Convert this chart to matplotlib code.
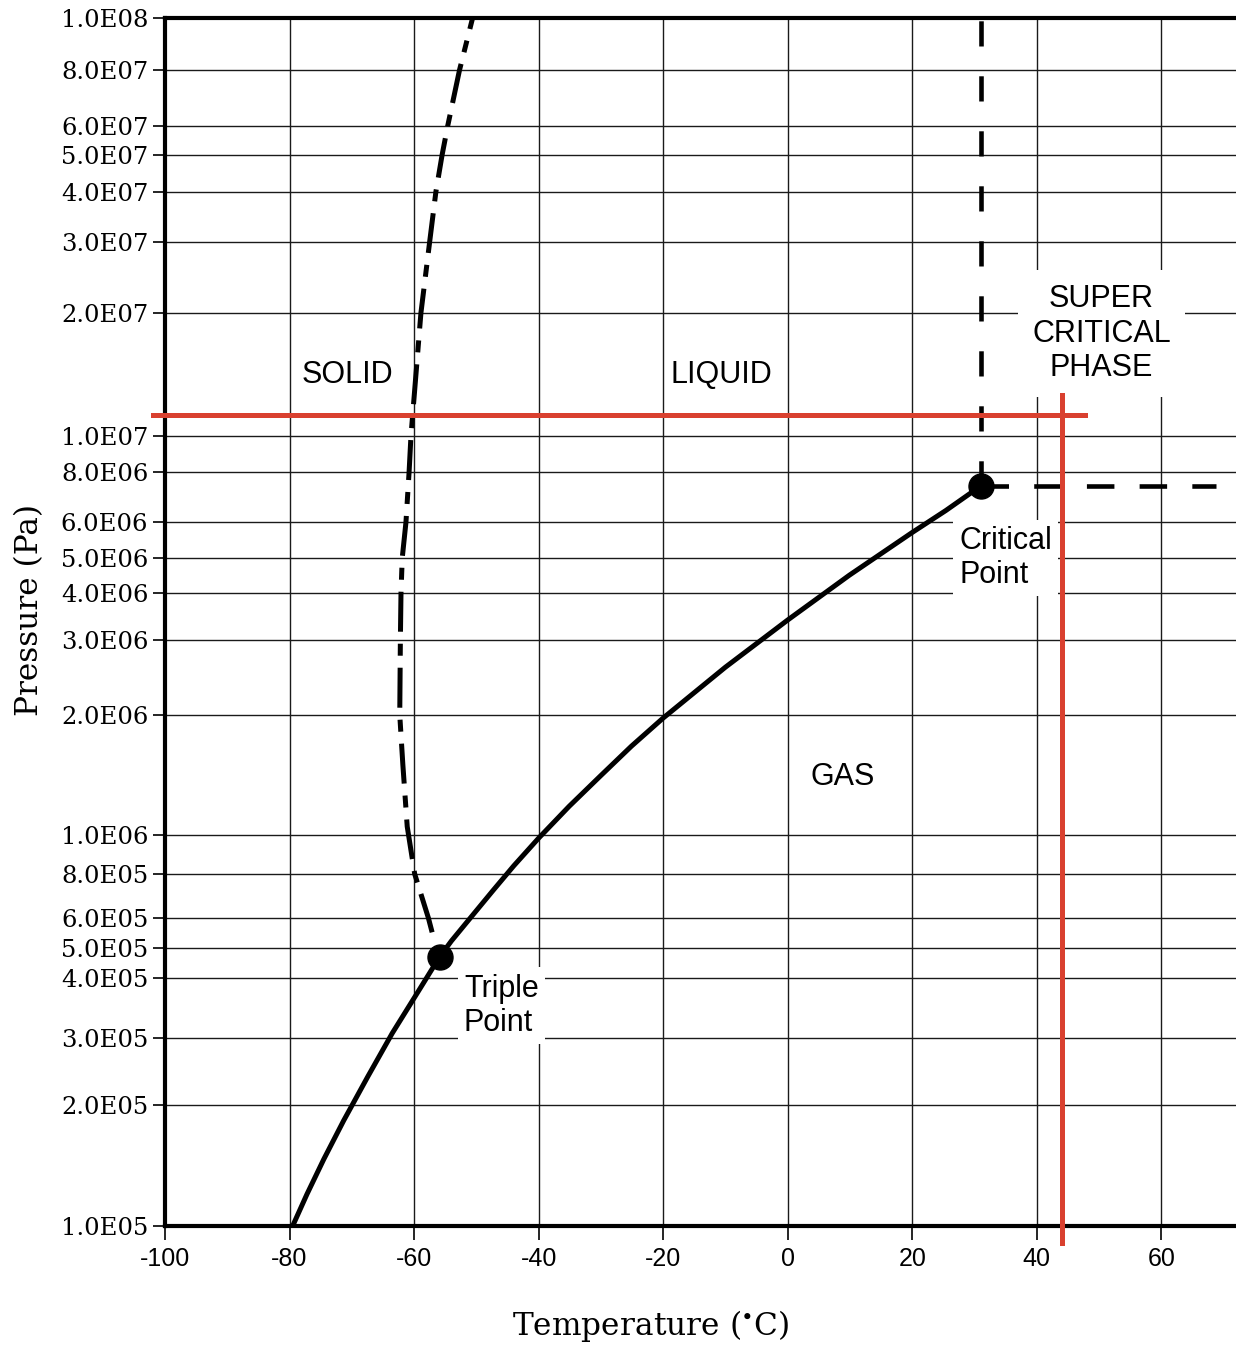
import numpy as np
import matplotlib
matplotlib.use("Agg")
from matplotlib import pyplot as plt

plt.rcParams["mathtext.fontset"] = "dejavuserif"
plt.rcParams["axes.unicode_minus"] = False

# sublimation curve (solid), from about -80 C up to the triple point
sub_T = [-79.5, -77.2, -74.5, -71.3, -67.4, -63.5, -59.5, -55.9]
sub_P = [1.0e5, 1.2e5, 1.466e5, 1.83e5, 2.38e5, 3.07e5, 3.72e5, 4.68e5]

# vaporization curve, triple point -> critical point
vap_T = [-55.9, -54.0, -50.6, -47.3, -44.0, -40.0, -35.1, -30.0, -25.1, -20.0,
         -10.0, 0.0, 9.9, 20.0, 25.4, 31.0]
vap_P = [4.68e5, 5.22e5, 6.11e5, 7.19e5, 8.38e5, 9.82e5, 1.18e6, 1.41e6, 1.67e6, 1.965e6,
         2.59e6, 3.39e6, 4.48e6, 5.69e6, 6.41e6, 7.38e6]

# melting curve (dash-dot)
melt_T = [-57.1, -57.7, -59.9, -61.1, -61.8, -62.3, -62.2, -62.1, -61.9, -61.3,
          -60.8, -60.5, -58.9, -57.5, -56.5, -55.5, -54.6, -52.7, -50.6]
melt_P = [5.5e5, 6.0e5, 8.0e5, 1.05e6, 1.5e6, 2.0e6, 3.0e6, 4.0e6, 5.0e6, 6.0e6,
          8.0e6, 1.0e7, 2.0e7, 3.0e7, 4.0e7, 5.0e7, 6.0e7, 8.0e7, 1.0e8]

triple = (-55.9, 4.68e5)
critical = (31.0, 7.38e6)
crit_right_T = 68.8
top_P = 1.0e8

# red reference lines
red_h_P = 1.126e7
red_h_T = [-102.0, 47.7]
red_v_T = 44.1
red_v_P = [1.26e7, 0.906e5]

x_ticks = [-100, -80, -60, -40, -20, 0, 20, 40, 60]
y_ticks = [1e5, 2e5, 3e5, 4e5, 5e5, 6e5, 8e5,
           1e6, 2e6, 3e6, 4e6, 5e6, 6e6, 8e6,
           1e7, 2e7, 3e7, 4e7, 5e7, 6e7, 8e7, 1e8]
y_labels = []
for v in y_ticks:
    e = int(np.floor(np.log10(v) + 1e-9))
    y_labels.append("%.1fE%02d" % (v / 10 ** e, e))

# the printed paper's log axis is not quite even; pixel rows of its gridlines
grid_rows = [1226, 1105, 1038, 978, 948, 918, 874,
             835, 715, 640, 593, 558, 522, 472,
             436, 313, 242, 192, 155, 126, 70, 18]
scale_logs = np.concatenate([[4.0], np.log10(y_ticks), [9.0]])
scale_pos = -np.array([1626] + grid_rows + [-382], dtype=float)


def paper_forward(v):
    with np.errstate(divide="ignore", invalid="ignore"):
        lv = np.log10(np.maximum(np.asarray(v, dtype=float), 1e-300))
    return np.interp(lv, scale_logs, scale_pos)


def paper_inverse(y):
    return 10 ** np.interp(np.asarray(y, dtype=float), scale_pos, scale_logs)


fig = plt.figure(figsize=(12.36, 13.45), dpi=100)
ax = fig.add_axes([165 / 1236, (1345 - 1226) / 1345, 1 - 165 / 1236, (1226 - 18) / 1345])

ax.set_yscale("function", functions=(paper_forward, paper_inverse))
ax.set_xlim(-100, 72)
ax.set_ylim(1e5, 1e8)

ax.set_xticks(x_ticks)
ax.set_yticks(y_ticks, labels=y_labels)
ax.yaxis.set_minor_locator(matplotlib.ticker.NullLocator())
ax.xaxis.set_minor_locator(matplotlib.ticker.NullLocator())
ax.tick_params(axis="y", length=9, width=1.2, pad=3, labelsize=17.5)
ax.tick_params(axis="x", length=10, width=1.2, pad=5, labelsize=18)
for lbl in ax.get_yticklabels():
    lbl.set_fontfamily("DejaVu Serif")
for lbl in ax.get_xticklabels():
    lbl.set_fontfamily("Liberation Sans")

ax.set_axisbelow(True)
ax.grid(True, color="#1a1a1a", lw=1.0)

for side in ["left", "bottom", "top"]:
    ax.spines[side].set_linewidth(3)
ax.spines["right"].set_visible(False)

ax.set_ylabel("Pressure (Pa)", fontsize=22.5, fontfamily="DejaVu Serif")
ax.yaxis.set_label_coords(-0.112, 0.51)
ax.set_xlabel(r"Temperature ($^{\bullet}$C)", fontsize=22.5, fontfamily="DejaVu Serif")
ax.xaxis.set_label_coords(0.453, -0.068)

# phase boundaries
ax.plot(sub_T, sub_P, color="black", lw=3.6, solid_capstyle="butt",
        solid_joinstyle="round", zorder=5)
ax.plot(vap_T, vap_P, color="black", lw=3.6, solid_capstyle="butt",
        solid_joinstyle="round", zorder=5)
ax.plot(melt_T, melt_P, color="black", lw=3.6, dashes=(8, 2.4, 2.4, 2.4),
        dash_capstyle="butt", zorder=5)

# critical isotherm / isobar
ax.plot([critical[0], critical[0]], [critical[1], top_P], color="black", lw=3.3,
        dashes=(5.5, 6.5), dash_capstyle="butt", zorder=5)
ax.plot([critical[0], crit_right_T], [critical[1], critical[1]], color="black", lw=3.3,
        dashes=(6, 5.5), dash_capstyle="butt", zorder=5)

ax.plot(*triple, "o", color="black", ms=18, zorder=6)
ax.plot(*critical, "o", color="black", ms=18, zorder=6)

# red lines
red = "#d9402f"
ax.plot(red_h_T, [red_h_P, red_h_P], color=red, lw=3.6, clip_on=False, zorder=7)
ax.plot([red_v_T, red_v_T], red_v_P, color=red, lw=3.6, clip_on=False, zorder=7)

box = dict(boxstyle="square,pad=0.15", fc="white", ec="none")
lab = dict(fontsize=22, fontfamily="Liberation Sans", zorder=4, linespacing=1.2)
ax.text(-70.7, 1.41e7, "SOLID", ha="center", va="center", bbox=box, **lab)
ax.text(-10.6, 1.41e7, "LIQUID", ha="center", va="center", bbox=box, **lab)
ax.text(8.9, 1.4e6, "GAS", ha="center", va="center", bbox=box, **lab)
ax.text(50.4, 1.78e7, "SUPER\nCRITICAL\nPHASE", ha="center", va="center",
        bbox=dict(boxstyle="square,pad=0.45", fc="white", ec="none"), **lab)
ax.text(27.6, 5.0e6, "Critical\nPoint", ha="left", va="center",
        bbox=dict(boxstyle="square,pad=0.2", fc="white", ec="none"), **lab)
ax.text(-52.0, 3.5e5, "Triple\nPoint", ha="left", va="center",
        bbox=dict(boxstyle="square,pad=0.2", fc="white", ec="none"), **lab)

fig.savefig("out.png", dpi=100)
